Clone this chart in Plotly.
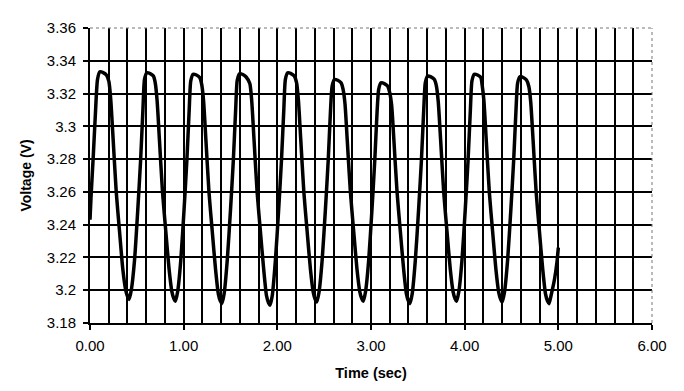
import plotly.graph_objects as go

# Time (sec) and Voltage (V)
time_sec = [
    0.000, 0.012, 0.035, 0.058, 0.080, 0.105, 0.140, 0.175, 0.202,
    0.222, 0.247, 0.280, 0.315, 0.350, 0.380, 0.402, 0.417,
    0.442, 0.475, 0.510, 0.540, 0.565, 0.582, 0.607, 0.642, 0.677,
    0.696, 0.716, 0.741, 0.774, 0.809, 0.844, 0.874, 0.896, 0.911,
    0.936, 0.969, 1.004, 1.034, 1.059, 1.076, 1.101, 1.136, 1.171,
    1.192, 1.212, 1.237, 1.270, 1.305, 1.340, 1.370, 1.392, 1.407,
    1.432, 1.465, 1.500, 1.530, 1.555, 1.572, 1.597, 1.632, 1.667,
    1.706, 1.726, 1.751, 1.784, 1.819, 1.854, 1.884, 1.906, 1.921,
    1.946, 1.979, 2.014, 2.044, 2.069, 2.086, 2.111, 2.146, 2.181,
    2.205, 2.225, 2.250, 2.283, 2.318, 2.353, 2.383, 2.405, 2.420,
    2.445, 2.478, 2.513, 2.543, 2.568, 2.585, 2.610, 2.645, 2.680,
    2.702, 2.722, 2.747, 2.780, 2.815, 2.850, 2.880, 2.902, 2.917,
    2.942, 2.975, 3.010, 3.040, 3.065, 3.082, 3.107, 3.142, 3.177,
    3.200, 3.220, 3.245, 3.278, 3.313, 3.348, 3.378, 3.400, 3.415,
    3.440, 3.473, 3.508, 3.538, 3.563, 3.580, 3.605, 3.640, 3.675,
    3.698, 3.718, 3.743, 3.776, 3.811, 3.846, 3.876, 3.898, 3.913,
    3.938, 3.971, 4.006, 4.036, 4.061, 4.078, 4.103, 4.138, 4.173,
    4.185, 4.205, 4.230, 4.263, 4.298, 4.333, 4.363, 4.385, 4.400,
    4.425, 4.458, 4.493, 4.523, 4.548, 4.565, 4.590, 4.625, 4.660,
    4.685, 4.705, 4.730, 4.763, 4.798, 4.833, 4.863, 4.885, 4.900,
    4.925, 4.960, 4.985, 5.000,
]

voltage_v = [
    3.2430, 3.2580, 3.2820, 3.3080, 3.3285, 3.3333, 3.3328, 3.3313, 3.3273,
    3.3160, 3.2920, 3.2600, 3.2360, 3.2130, 3.2004, 3.1959, 3.1944,
    3.2004, 3.2180, 3.2490, 3.2790, 3.3100, 3.3287, 3.3327, 3.3322, 3.3307,
    3.3267, 3.3160, 3.2920, 3.2600, 3.2360, 3.2130, 3.1992, 3.1947, 3.1932,
    3.1992, 3.2180, 3.2490, 3.2790, 3.3100, 3.3278, 3.3318, 3.3313, 3.3298,
    3.3258, 3.3160, 3.2920, 3.2600, 3.2360, 3.2130, 3.1978, 3.1933, 3.1918,
    3.1978, 3.2180, 3.2490, 3.2790, 3.3100, 3.3281, 3.3321, 3.3316, 3.3301,
    3.3261, 3.3160, 3.2920, 3.2600, 3.2360, 3.2130, 3.1968, 3.1923, 3.1908,
    3.1968, 3.2180, 3.2490, 3.2790, 3.3100, 3.3287, 3.3327, 3.3322, 3.3307,
    3.3267, 3.3160, 3.2920, 3.2600, 3.2360, 3.2130, 3.1988, 3.1943, 3.1928,
    3.1988, 3.2180, 3.2490, 3.2790, 3.3100, 3.3246, 3.3286, 3.3281, 3.3266,
    3.3226, 3.3140, 3.2910, 3.2600, 3.2360, 3.2130, 3.1992, 3.1947, 3.1932,
    3.1992, 3.2180, 3.2490, 3.2790, 3.3090, 3.3226, 3.3266, 3.3261, 3.3246,
    3.3206, 3.3130, 3.2910, 3.2600, 3.2360, 3.2130, 3.1978, 3.1933, 3.1918,
    3.1978, 3.2180, 3.2490, 3.2790, 3.3100, 3.3267, 3.3307, 3.3302, 3.3287,
    3.3247, 3.3150, 3.2920, 3.2600, 3.2360, 3.2130, 3.1992, 3.1947, 3.1932,
    3.1992, 3.2180, 3.2490, 3.2790, 3.3100, 3.3278, 3.3318, 3.3313, 3.3298,
    3.3258, 3.3160, 3.2920, 3.2600, 3.2360, 3.2130, 3.1988, 3.1943, 3.1928,
    3.1988, 3.2180, 3.2490, 3.2790, 3.3100, 3.3263, 3.3303, 3.3298, 3.3283,
    3.3243, 3.3150, 3.2920, 3.2600, 3.2360, 3.2130, 3.1978, 3.1933, 3.1918,
    3.1975, 3.2070, 3.2170, 3.2260,
]

x_ticks = [0, 1, 2, 3, 4, 5, 6]
x_tick_labels = ["0.00", "1.00", "2.00", "3.00", "4.00", "5.00", "6.00"]
x_grid = [0.2, 0.4, 0.6, 0.8, 1.0, 1.2, 1.4, 1.6, 1.8, 2.0, 2.2, 2.4, 2.6, 2.8,
          3.0, 3.2, 3.4, 3.6, 3.8, 4.0, 4.2, 4.4, 4.6, 4.8, 5.0, 5.2, 5.4, 5.6, 5.8]
y_ticks = [3.18, 3.20, 3.22, 3.24, 3.26, 3.28, 3.30, 3.32, 3.34, 3.36]
y_tick_labels = ["3.18", "3.2", "3.22", "3.24", "3.26", "3.28", "3.3", "3.32", "3.34", "3.36"]
y_grid = [3.20, 3.22, 3.24, 3.26, 3.28, 3.30, 3.32, 3.34]

FONT = "Liberation Sans, Arial, sans-serif"

fig = go.Figure()
fig.add_trace(go.Scatter(
    x=time_sec, y=voltage_v, mode="lines",
    line=dict(color="black", width=3.5, shape="spline", smoothing=0.6),
    showlegend=False, hoverinfo="skip",
))

# page body adds an 8px margin, so the figure is 8px smaller than the window
fig.update_layout(
    width=676, height=383,
    margin=dict(l=82, r=32, t=20, b=68),
    paper_bgcolor="white", plot_bgcolor="white",
    font=dict(family=FONT, size=15, color="black"),
)

fig.update_xaxes(
    range=[0, 6], tickvals=x_ticks, ticktext=x_tick_labels,
    showgrid=False,
    minor=dict(tickvals=x_grid, showgrid=True, gridcolor="black", gridwidth=2, ticks=""),
    showline=True, linecolor="black", linewidth=2,
    ticks="outside", ticklen=5, tickwidth=1.5, tickcolor="black",
    ticklabelstandoff=3,
    zeroline=False,
    title=dict(text="<b>Time (sec)</b>", font=dict(size=14.5, family=FONT), standoff=15),
)
fig.update_yaxes(
    range=[3.18, 3.36], tickvals=y_ticks, ticktext=y_tick_labels,
    showgrid=False,
    minor=dict(tickvals=y_grid, showgrid=True, gridcolor="black", gridwidth=2, ticks=""),
    showline=True, linecolor="black", linewidth=2,
    ticks="outside", ticklen=5, tickwidth=1.5, tickcolor="black",
    ticklabelstandoff=4,
    zeroline=False,
    title=dict(text="<b>Voltage (V)</b>", font=dict(size=14, family=FONT), standoff=12),
)

# faint dotted frame on the top and right edges of the plot area
fig.add_shape(type="line", xref="paper", yref="paper", x0=0, x1=1, y0=1, y1=1,
              line=dict(color="#777777", width=1, dash="dot"))
fig.add_shape(type="line", xref="paper", yref="paper", x0=1, x1=1, y0=0, y1=1,
              line=dict(color="#777777", width=1, dash="dot"))

fig.write_html("out.html")
